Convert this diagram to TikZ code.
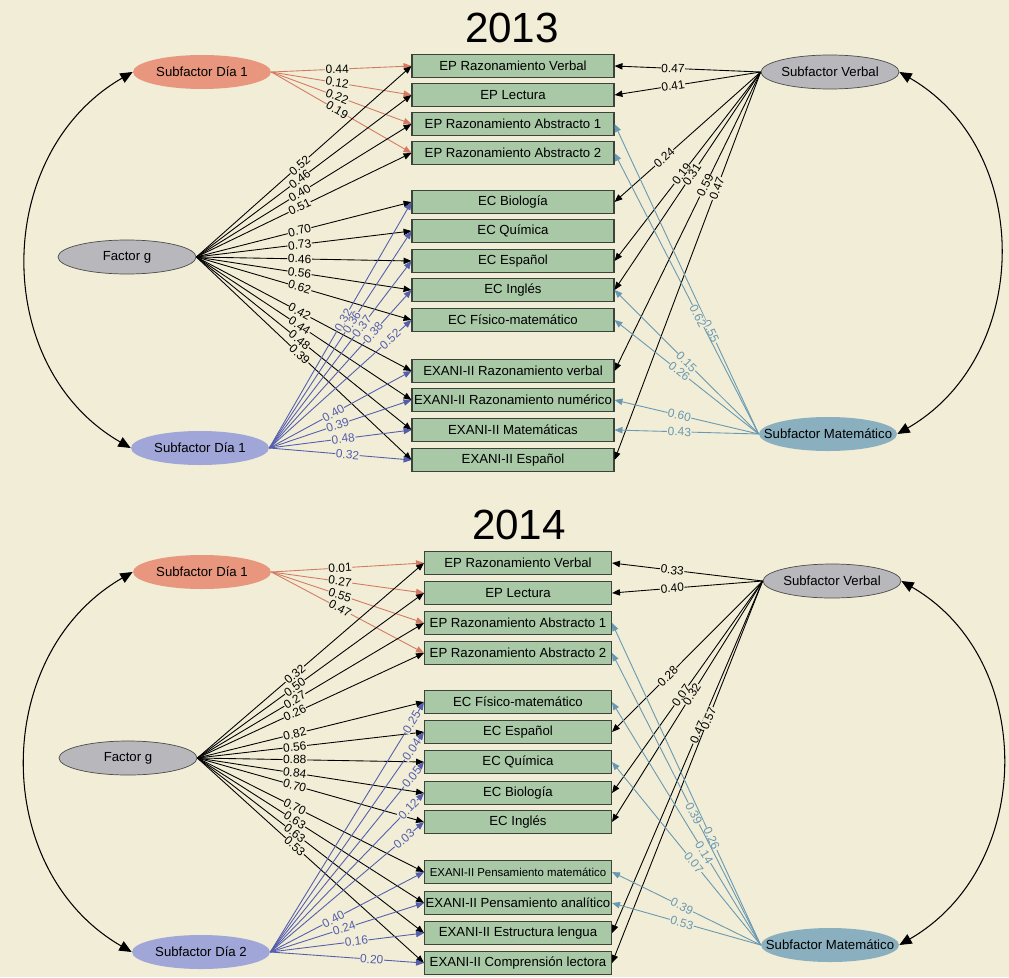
\documentclass[tikz,border=0pt]{standalone}
\usepackage{fontspec}
\setmainfont{Liberation Sans}
\usetikzlibrary{shapes.geometric,arrows.meta}

\definecolor{bg}{RGB}{241,237,214}
\definecolor{boxfill}{RGB}{168,200,166}
\definecolor{boxline}{RGB}{60,66,60}
\definecolor{salmon}{RGB}{232,150,125}
\definecolor{salmonedge}{RGB}{212,122,98}
\definecolor{latgray}{RGB}{184,184,188}
\definecolor{lavender}{RGB}{160,166,216}
\definecolor{lavedge}{RGB}{84,94,172}
\definecolor{steel}{RGB}{138,176,192}
\definecolor{steeledge}{RGB}{104,152,178}

\tikzset{
    obs/.style={draw=boxline, fill=boxfill, line width=0.6pt, minimum height=4.6mm,
        inner xsep=0.5pt, inner ysep=0pt, font=\fontsize{7.5}{9}\selectfont},
    obsA/.style={obs, minimum width=40.4mm},
    obsB/.style={obs, minimum width=37.4mm},
    lat/.style={ellipse, minimum width=27.6mm, minimum height=6.8mm, inner sep=0pt,
        font=\fontsize{7.5}{9}\selectfont},
    latg/.style={lat, fill=latgray, draw=black!70, line width=0.4pt},
    ld/.style={-{Triangle[length=4.5pt,width=3.6pt]}, line width=0.5pt},
    wt/.style={sloped, fill=bg, inner sep=0.3pt, font=\fontsize{6.8}{7}\selectfont},
    cov/.style={{Triangle[length=7pt,width=6pt]}-{Triangle[length=7pt,width=6pt]}, line width=0.6pt},
    yr/.style={font=\fontsize{24}{28}\selectfont}
}

\begin{document}
\begin{tikzpicture}[x=0.2mm,y=-0.2mm]
    \fill[bg] (0,0) rectangle (1009,977);
    \useasboundingbox (0,0) rectangle (1009,977);

    \node[yr] (t13) at (512,28) {2013};

    \node[obsA] (aEPV)  at (513,66)  {EP Razonamiento Verbal};
    \node[obsA] (aEPL)  at (513,95)  {EP Lectura};
    \node[obsA] (aEPA1) at (513,124) {EP Razonamiento Abstracto 1};
    \node[obsA] (aEPA2) at (513,153) {EP Razonamiento Abstracto 2};
    \node[obsA] (aBio)  at (513,202) {EC Biología};
    \node[obsA] (aQui)  at (513,231) {EC Química};
    \node[obsA] (aEsp)  at (513,261) {EC Español};
    \node[obsA] (aIng)  at (513,290) {EC Inglés};
    \node[obsA] (aFis)  at (513,320) {EC Físico-matemático};
    \node[obsA] (aXRV)  at (513,371) {EXANI-II Razonamiento verbal};
    \node[obsA] (aXRN)  at (513,400) {EXANI-II Razonamiento numérico};
    \node[obsA] (aXMat) at (513,430) {EXANI-II Matemáticas};
    \node[obsA] (aXEsp) at (513,460) {EXANI-II Español};

    \node[lat, fill=salmon]   (aSD)   at (202,72)  {\makebox[0pt]{Subfactor Día 1}};
    \node[latg]               (aG)    at (127,257) {\makebox[0pt]{Factor g}};
    \node[lat, fill=lavender] (aSB)   at (200,448) {\makebox[0pt]{Subfactor Día 1}};
    \node[latg]               (aVerb) at (830,72)  {\makebox[0pt]{Subfactor Verbal}};
    \node[lat, fill=steel]    (aMat)  at (828,434) {\makebox[0pt]{Subfactor Matemático}};

    \draw[cov] (aSD.west) to[out=210,in=150,looseness=1.1] (aSB.west);
    \draw[cov] (aVerb.east) to[out=-30,in=30,looseness=1.1] (aMat.east);

    \foreach \t/\w in {aEPV/0.44, aEPL/0.12, aEPA1/0.22, aEPA2/0.19}
        \draw[ld, salmonedge] (aSD.east) -- node[wt, text=black, pos=.47] {\w} (\t.west);
    \foreach \t/\w in {aEPV/0.52, aEPL/0.46, aEPA1/0.40, aEPA2/0.51, aBio/0.70, aQui/0.73,
        aEsp/0.46, aIng/0.56, aFis/0.62, aXRV/0.42, aXRN/0.44, aXMat/0.48, aXEsp/0.39}
        \draw[ld] (aG.east) -- node[wt, pos=.48] {\w} (\t.west);
    \foreach \t/\w/\p in {aBio/0.32/.52, aQui/0.36/.58, aEsp/0.37/.65, aIng/0.38/.73,
        aFis/0.52/.85, aXRV/0.40/.45, aXRN/0.39/.48, aXMat/0.48/.52, aXEsp/0.32/.55}
        \draw[ld, lavedge] (aSB.east) -- node[wt, pos=\p] {\w} (\t.west);
    \foreach \t/\w/\p in {aEPV/0.47/.6, aEPL/0.41/.6, aBio/0.24/.66, aEsp/0.19/.54,
        aIng/0.31/.47, aXRV/0.59/.38, aXEsp/0.47/.30}
        \draw[ld] (aVerb.west) -- node[wt, pos=\p] {\w} (\t.east);
    \foreach \t/\w/\p in {aEPA1/0.55/.33, aEPA2/0.62/.42, aIng/0.15/.5, aFis/0.26/.55,
        aXRN/0.60/.55, aXMat/0.43/.55}
        \draw[ld, steeledge] (aMat.west) -- node[wt, pos=\p] {\w} (\t.east);

    \node[yr] (t14) at (519,525) {2014};

    \node[obsB] (bEPV)  at (518,563) {EP Razonamiento Verbal};
    \node[obsB] (bEPL)  at (518,593) {EP Lectura};
    \node[obsB] (bEPA1) at (518,623) {EP Razonamiento Abstracto 1};
    \node[obsB] (bEPA2) at (518,653) {EP Razonamiento Abstracto 2};
    \node[obsB] (bFis)  at (518,702) {EC Físico-matemático};
    \node[obsB] (bEsp)  at (518,732) {EC Español};
    \node[obsB] (bQui)  at (518,762) {EC Química};
    \node[obsB] (bBio)  at (518,793) {EC Biología};
    \node[obsB] (bIng)  at (518,822) {EC Inglés};
    \node[obsB, font=\fontsize{6.5}{8}\selectfont] (bXPM) at (518,872) {EXANI-II Pensamiento matemático};
    \node[obsB] (bXPA)  at (518,903) {EXANI-II Pensamiento analítico};
    \node[obsB] (bXEL)  at (518,933) {EXANI-II Estructura lengua};
    \node[obsB] (bXCL)  at (518,963) {EXANI-II Comprensión lectora};

    \node[lat, fill=salmon]   (bSD)   at (202,572) {\makebox[0pt]{Subfactor Día 1}};
    \node[latg]               (bG)    at (128,758) {\makebox[0pt]{Factor g}};
    \node[lat, fill=lavender] (bSB)   at (201,952) {\makebox[0pt]{Subfactor Día 2}};
    \node[latg]               (bVerb) at (832,581) {\makebox[0pt]{Subfactor Verbal}};
    \node[lat, fill=steel]    (bMat)  at (830,945) {\makebox[0pt]{Subfactor Matemático}};

    \draw[cov] (bSD.west) to[out=210,in=150,looseness=1.1] (bSB.west);
    \draw[cov] (bVerb.east) to[out=-30,in=30,looseness=1.1] (bMat.east);

    \foreach \t/\w in {bEPV/0.01, bEPL/0.27, bEPA1/0.55, bEPA2/0.47}
        \draw[ld, salmonedge] (bSD.east) -- node[wt, text=black, pos=.45] {\w} (\t.west);
    \foreach \t/\w in {bEPV/0.32, bEPL/0.50, bEPA1/0.27, bEPA2/0.26, bFis/0.82, bEsp/0.56,
        bQui/0.88, bBio/0.84, bIng/0.70, bXPM/0.70, bXPA/0.63, bXEL/0.63, bXCL/0.53}
        \draw[ld] (bG.east) -- node[wt, pos=.43] {\w} (\t.west);
    \foreach \t/\w/\p in {bFis/0.25/.92, bEsp/0.04/.92, bQui/0.05/.92, bBio/0.12/.9,
        bIng/0.03/.87, bXPM/0.40/.41, bXPA/0.24/.48, bXEL/0.16/.56, bXCL/0.20/.66}
        \draw[ld, lavedge] (bSB.east) -- node[wt, pos=\p] {\w} (\t.west);
    \foreach \t/\w/\p in {bEPV/0.33/.6, bEPL/0.40/.6, bEsp/0.28/.63, bBio/0.07/.54,
        bIng/0.32/.47, bXEL/0.47/.43, bXCL/0.57/.36}
        \draw[ld] (bVerb.west) -- node[wt, pos=\p] {\w} (\t.east);
    \foreach \t/\w/\p in {bEPA1/0.26/.33, bEPA2/0.39/.45, bFis/0.14/.38, bQui/0.07/.45,
        bXPM/0.39/.53, bXPA/0.53/.53}
        \draw[ld, steeledge] (bMat.west) -- node[wt, pos=\p] {\w} (\t.east);
\end{tikzpicture}
\end{document}
